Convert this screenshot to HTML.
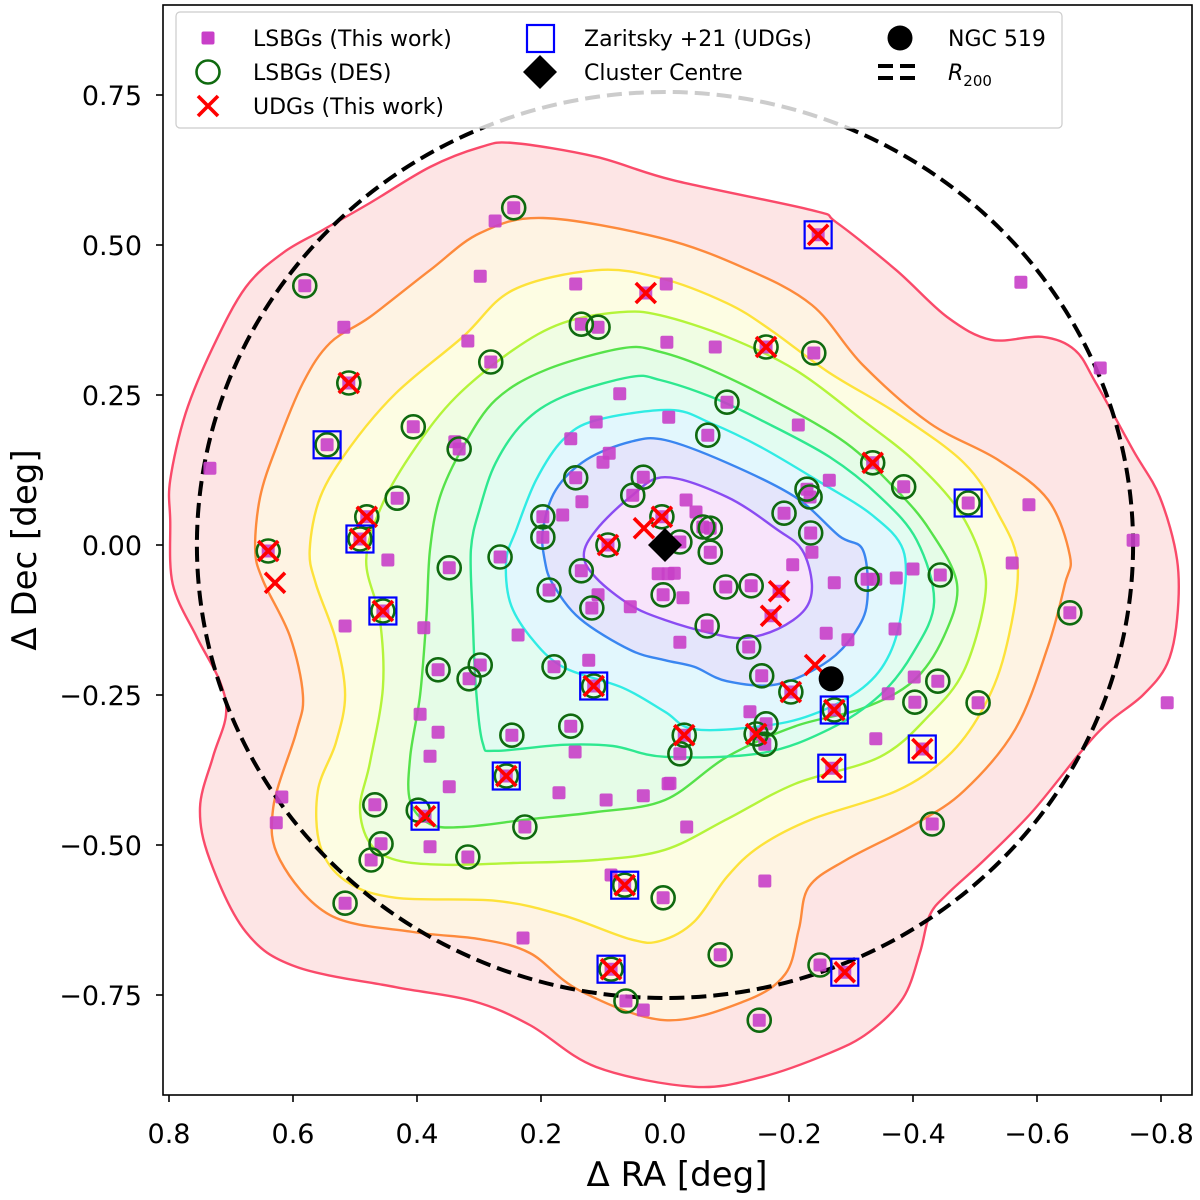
<!DOCTYPE html>
<html><head><meta charset="utf-8"><style>
html,body{margin:0;padding:0;background:#fff;}
svg{display:block;font-family:"DejaVu Sans","Liberation Sans",sans-serif;}
</style></head><body>
<svg id="chart" width="1200" height="1200" viewBox="0 0 1200 1200">
<defs><clipPath id="clip"><rect x="163" y="5" width="1029" height="1090"/></clipPath></defs>
<rect x="0" y="0" width="1200" height="1200" fill="#fff"/>
<g id="plot" clip-path="url(#clip)"></g>
<rect x="163" y="5" width="1029" height="1090" fill="none" stroke="#000" stroke-width="1.6"/>
<g id="axes"></g>
<g id="legend"></g>
</svg>
<script>
// ---- data (degrees) ----
const xTicks = [0.8,0.6,0.4,0.2,0,-0.2,-0.4,-0.6,-0.8];
const xTickLabels = ["0.8","0.6","0.4","0.2","0.0","\u22120.2","\u22120.4","\u22120.6","\u22120.8"];
const yTicks = [0.75,0.5,0.25,0,-0.25,-0.5,-0.75];
const yTickLabels = ["0.75","0.50","0.25","0.00","\u22120.25","\u22120.50","\u22120.75"];
const r200 = 0.755;
const clusterCentre = [0,0];
const ngc519 = [-0.268,-0.223];

const lsbg = [[0.244,0.562],[0.274,0.540],[0.581,0.432],[0.518,0.363],[0.298,0.448],[0.144,0.435],[0.031,0.420],[-0.002,0.435],[0.135,0.368],[0.108,0.363],[0.318,0.340],[0.281,0.305],[-0.003,0.338],[0.510,0.270],[0.073,0.252],[0.545,0.167],[0.406,0.197],[0.332,0.160],[0.339,0.172],[0.111,0.205],[0.152,0.177],[-0.006,0.213],[0.090,0.153],[0.100,0.138],[0.432,0.078],[0.481,0.047],[0.492,0.010],[0.640,-0.010],[0.134,0.072],[0.144,0.112],[0.165,0.050],[0.197,0.047],[0.197,0.013],[0.035,0.113],[0.052,0.083],[0.005,0.047],[0.092,0.000],[0.734,0.128],
[-0.247,0.517],[-0.574,0.438],[-0.702,0.295],[-0.081,0.330],[-0.163,0.330],[-0.240,0.320],[-0.100,0.238],[-0.069,0.183],[-0.215,0.200],[-0.335,0.137],[-0.385,0.097],[-0.489,0.070],[-0.587,0.067],[-0.755,0.008],[-0.265,0.108],[-0.229,0.093],[-0.234,0.080],[-0.192,0.053],[-0.235,0.020],[-0.237,-0.012],[-0.034,0.075],[-0.050,0.055],[-0.061,0.030],[-0.073,0.028],[-0.073,-0.012],[-0.024,0.005],
[0.455,-0.110],[0.516,-0.135],[0.447,-0.025],[0.389,-0.138],[0.348,-0.038],[0.266,-0.020],[0.135,-0.043],[0.187,-0.075],[0.118,-0.105],[0.056,-0.103],[0.108,-0.083],[0.011,-0.048],[-0.005,-0.048],[0.003,-0.083],[0.237,-0.150],[0.366,-0.208],[0.298,-0.200],[0.316,-0.223],[0.179,-0.203],[0.123,-0.192],[0.115,-0.235],[0.395,-0.282],[0.366,-0.312],[0.247,-0.317],[0.152,-0.302],[0.145,-0.345],[0.379,-0.352],[0.348,-0.403],[0.256,-0.385],[0.171,-0.413],[0.095,-0.425],[0.035,-0.418],[-0.005,-0.398],[0.618,-0.420],[0.627,-0.463],[0.468,-0.433],[0.387,-0.452],[0.458,-0.498],[0.474,-0.525],[0.379,-0.503],[0.318,-0.520],[0.226,-0.470],[0.087,-0.550],[0.065,-0.567],[0.003,-0.588],[0.516,-0.597],[0.229,-0.655],[0.087,-0.707],[0.063,-0.760],[0.035,-0.775],
[-0.560,-0.030],[-0.444,-0.050],[-0.653,-0.113],[-0.400,-0.040],[-0.373,-0.055],[-0.326,-0.057],[-0.340,-0.057],[-0.273,-0.063],[-0.206,-0.033],[-0.184,-0.077],[-0.171,-0.118],[-0.098,-0.070],[-0.139,-0.068],[-0.029,-0.088],[-0.015,-0.047],[-0.068,-0.135],[-0.024,-0.162],[-0.135,-0.170],[-0.260,-0.147],[-0.295,-0.158],[-0.371,-0.140],[-0.156,-0.218],[-0.203,-0.245],[-0.273,-0.275],[-0.402,-0.220],[-0.440,-0.227],[-0.360,-0.248],[-0.403,-0.262],[-0.505,-0.263],[-0.810,-0.263],[-0.137,-0.278],[-0.163,-0.298],[-0.147,-0.315],[-0.161,-0.332],[-0.031,-0.317],[-0.024,-0.348],[-0.340,-0.323],[-0.415,-0.340],[-0.269,-0.372],[-0.008,-0.397],[-0.035,-0.470],[-0.431,-0.465],[-0.161,-0.560],[-0.089,-0.683],[-0.250,-0.700],[-0.290,-0.712],[-0.152,-0.792]];

const des = [[0.244,0.562],[0.581,0.432],[0.135,0.368],[0.108,0.363],[0.281,0.305],[0.510,0.270],[0.545,0.167],[0.406,0.197],[0.332,0.160],[0.432,0.078],[0.481,0.047],[0.492,0.010],[0.640,-0.010],[0.144,0.112],[0.197,0.047],[0.197,0.013],[0.035,0.113],[0.052,0.083],[0.005,0.047],[0.092,0.000],
[-0.163,0.330],[-0.240,0.320],[-0.100,0.238],[-0.069,0.183],[-0.335,0.137],[-0.385,0.097],[-0.489,0.070],[-0.229,0.093],[-0.234,0.080],[-0.192,0.053],[-0.235,0.020],[-0.061,0.030],[-0.073,0.028],[-0.073,-0.012],[-0.024,0.005],
[0.455,-0.110],[0.348,-0.038],[0.266,-0.020],[0.135,-0.043],[0.187,-0.075],[0.118,-0.105],[0.003,-0.083],[0.366,-0.208],[0.298,-0.200],[0.316,-0.223],[0.179,-0.203],[0.115,-0.235],[0.247,-0.317],[0.152,-0.302],[0.256,-0.385],[0.468,-0.433],[0.398,-0.442],[0.458,-0.498],[0.474,-0.525],[0.318,-0.520],[0.226,-0.470],[0.065,-0.567],[0.003,-0.588],[0.516,-0.597],[0.087,-0.707],[0.063,-0.760],
[-0.444,-0.050],[-0.653,-0.113],[-0.326,-0.057],[-0.098,-0.070],[-0.139,-0.068],[-0.068,-0.135],[-0.135,-0.170],[-0.156,-0.218],[-0.203,-0.245],[-0.273,-0.275],[-0.440,-0.227],[-0.403,-0.262],[-0.505,-0.263],[-0.163,-0.298],[-0.147,-0.315],[-0.161,-0.332],[-0.031,-0.317],[-0.024,-0.348],[-0.431,-0.465],[-0.089,-0.683],[-0.250,-0.700],[-0.152,-0.792]];

const udg = [[0.031,0.420],[0.510,0.270],[0.481,0.047],[0.492,0.010],[0.640,-0.010],[0.629,-0.063],[0.034,0.028],[0.005,0.047],[0.092,0.000],[-0.247,0.517],[-0.163,0.330],[-0.335,0.137],[0.455,-0.110],[0.115,-0.235],[0.256,-0.385],[0.387,-0.452],[0.065,-0.567],[0.087,-0.707],[-0.184,-0.077],[-0.171,-0.118],[-0.242,-0.200],[-0.203,-0.245],[-0.273,-0.275],[-0.147,-0.315],[-0.031,-0.317],[-0.415,-0.340],[-0.269,-0.372],[-0.290,-0.712]];

const zaritsky = [[0.545,0.167],[0.492,0.010],[-0.247,0.517],[-0.489,0.070],[0.455,-0.110],[0.115,-0.235],[0.256,-0.385],[0.387,-0.452],[0.065,-0.567],[0.087,-0.707],[-0.273,-0.275],[-0.415,-0.340],[-0.269,-0.372],[-0.290,-0.712]];

// KDE contour levels (outer to inner), vertices in degrees
const contourRed = [[0.245,0.670],[0.111,0.647],[-0.013,0.608],[-0.237,0.558],[-0.276,0.538],[-0.373,0.458],[-0.455,0.380],[-0.526,0.342],[-0.608,0.347],[-0.661,0.325],[-0.695,0.270],[-0.755,0.158],[-0.798,0.080],[-0.826,-0.025],[-0.826,-0.123],[-0.810,-0.198],[-0.771,-0.250],[-0.716,-0.295],[-0.673,-0.342],[-0.592,-0.445],[-0.515,-0.525],[-0.455,-0.582],[-0.427,-0.617],[-0.411,-0.680],[-0.384,-0.755],[-0.329,-0.812],[-0.265,-0.847],[-0.155,-0.887],[-0.047,-0.903],[0.111,-0.870],[0.218,-0.800],[0.310,-0.760],[0.434,-0.737],[0.595,-0.703],[0.676,-0.645],[0.734,-0.525],[0.750,-0.438],[0.729,-0.353],[0.708,-0.283],[0.718,-0.227],[0.756,-0.152],[0.794,-0.065],[0.798,0.042],[0.798,0.108],[0.773,0.220],[0.729,0.330],[0.676,0.430],[0.616,0.487],[0.552,0.525],[0.476,0.570],[0.379,0.630],[0.298,0.663]];
const contourOrange = [[0.197,0.545],[0.008,0.512],[-0.127,0.462],[-0.237,0.400],[-0.319,0.300],[-0.427,0.203],[-0.537,0.142],[-0.618,0.075],[-0.653,-0.018],[-0.645,-0.065],[-0.618,-0.168],[-0.565,-0.307],[-0.482,-0.410],[-0.400,-0.467],[-0.292,-0.525],[-0.232,-0.570],[-0.216,-0.640],[-0.194,-0.715],[-0.129,-0.760],[0,-0.792],[0.137,-0.743],[0.218,-0.680],[0.298,-0.657],[0.406,-0.645],[0.540,-0.617],[0.621,-0.525],[0.632,-0.438],[0.595,-0.313],[0.584,-0.250],[0.605,-0.152],[0.648,-0.060],[0.661,-0.008],[0.653,0.080],[0.627,0.163],[0.584,0.270],[0.540,0.337],[0.476,0.380],[0.379,0.458],[0.298,0.520]];
const contourYellow = [[0.111,0.458],[0.008,0.445],[-0.100,0.403],[-0.171,0.358],[-0.265,0.287],[-0.373,0.220],[-0.482,0.137],[-0.537,0.053],[-0.569,-0.037],[-0.548,-0.180],[-0.510,-0.278],[-0.455,-0.353],[-0.373,-0.410],[-0.237,-0.457],[-0.153,-0.502],[-0.100,-0.553],[-0.047,-0.628],[0.008,-0.660],[0.056,-0.657],[0.165,-0.617],[0.273,-0.593],[0.434,-0.588],[0.515,-0.560],[0.556,-0.502],[0.560,-0.410],[0.531,-0.330],[0.516,-0.250],[0.531,-0.158],[0.563,-0.065],[0.573,-0.008],[0.556,0.080],[0.508,0.163],[0.434,0.253],[0.326,0.347],[0.245,0.425]];
const contourLime = [[0.073,0.388],[0.008,0.383],[-0.100,0.347],[-0.210,0.292],[-0.319,0.208],[-0.400,0.142],[-0.471,0.062],[-0.511,-0.025],[-0.515,-0.095],[-0.482,-0.210],[-0.427,-0.283],[-0.347,-0.353],[-0.210,-0.398],[-0.100,-0.457],[0,-0.508],[0.111,-0.525],[0.245,-0.530],[0.353,-0.533],[0.434,-0.525],[0.476,-0.497],[0.492,-0.438],[0.476,-0.363],[0.455,-0.238],[0.460,-0.123],[0.482,-0.025],[0.455,0.070],[0.402,0.163],[0.337,0.247],[0.245,0.325],[0.165,0.370]];
const contourGreen = [[0.068,0.328],[0.008,0.322],[-0.074,0.292],[-0.182,0.237],[-0.292,0.170],[-0.373,0.092],[-0.427,0.025],[-0.471,-0.065],[-0.450,-0.152],[-0.400,-0.227],[-0.319,-0.272],[-0.210,-0.302],[-0.100,-0.353],[0,-0.425],[0.111,-0.445],[0.218,-0.457],[0.326,-0.470],[0.379,-0.465],[0.411,-0.427],[0.411,-0.353],[0.395,-0.250],[0.385,-0.123],[0.379,-0.008],[0.363,0.080],[0.326,0.163],[0.273,0.242],[0.192,0.292]];
const contourSpring = [[0.056,0.280],[0.008,0.275],[-0.074,0.247],[-0.155,0.208],[-0.265,0.147],[-0.347,0.080],[-0.406,0.008],[-0.434,-0.095],[-0.400,-0.180],[-0.347,-0.250],[-0.265,-0.307],[-0.155,-0.347],[0,-0.353],[0.084,-0.335],[0.165,-0.333],[0.273,-0.343],[0.294,-0.330],[0.305,-0.238],[0.310,-0.123],[0.313,-0.008],[0.298,0.063],[0.273,0.137],[0.229,0.203],[0.165,0.247]];
const contourCyan = [[-0.008,0.225],[0.111,0.208],[0.165,0.175],[0.208,0.108],[0.240,0.025],[0.256,-0.025],[0.250,-0.095],[0.218,-0.152],[0.165,-0.203],[0.068,-0.238],[0,-0.278],[-0.047,-0.307],[-0.155,-0.302],[-0.237,-0.283],[-0.319,-0.238],[-0.363,-0.180],[-0.384,-0.095],[-0.384,-0.008],[-0.334,0.050],[-0.253,0.103],[-0.155,0.163],[-0.074,0.203]];
const contourBlue = [[0,0.175],[0.056,0.172],[0.127,0.142],[0.176,0.092],[0.197,0.025],[0.194,-0.025],[0.181,-0.065],[0.137,-0.123],[0.056,-0.175],[0,-0.192],[-0.047,-0.203],[-0.100,-0.227],[-0.182,-0.232],[-0.265,-0.192],[-0.313,-0.135],[-0.327,-0.083],[-0.319,-0.008],[-0.281,0.015],[-0.210,0.080],[-0.100,0.137]];
const contourPurple = [[0,0.113],[0.056,0.080],[0.111,0.025],[0.131,-0.017],[0.111,-0.055],[0.056,-0.100],[0,-0.125],[-0.074,-0.147],[-0.127,-0.155],[-0.182,-0.140],[-0.226,-0.107],[-0.237,-0.065],[-0.221,-0.008],[-0.182,0.025],[-0.100,0.080]];

const contours = [contourRed,contourOrange,contourYellow,contourLime,contourGreen,contourSpring,contourCyan,contourBlue,contourPurple];
const contourNames = ["red","orange","yellow","lime","green","spring","cyan","blue","purple"];
const lineColors = ["#fa4a6a","#fd8a3c","#fde23a","#b4f43a","#56e24a","#2ee890","#30ece4","#3a86f0","#8a4cf2"];
const fillColors = ["#fde5e5","#fef3e3","#fdfde3","#f0fde3","#e5fce7","#e2fcf1","#e2f7fd","#e4e5fb","#f8e4fb"];

// ---- axis functions ----
const X0=665, XS=620, Y0=545, YS=600;
function sx(ra){return X0 - ra*XS;}
function sy(dec){return Y0 - dec*YS;}

const NS="http://www.w3.org/2000/svg";
function mk(tag, attrs, parent){const e=document.createElementNS(NS,tag);for(const k in attrs)e.setAttribute(k,attrs[k]);parent.appendChild(e);return e;}
const plot=document.getElementById('plot'), axes=document.getElementById('axes'), legend=document.getElementById('legend');

function smoothClosed(pts){
  const p=pts.map(d=>[sx(d[0]),sy(d[1])]); const n=p.length;
  let s="M"+p[0][0].toFixed(1)+","+p[0][1].toFixed(1);
  for(let i=0;i<n;i++){
    const p0=p[(i-1+n)%n],p1=p[i],p2=p[(i+1)%n],p3=p[(i+2)%n];
    const c1=[p1[0]+(p2[0]-p0[0])/6,p1[1]+(p2[1]-p0[1])/6];
    const c2=[p2[0]-(p3[0]-p1[0])/6,p2[1]-(p3[1]-p1[1])/6];
    s+="C"+c1[0].toFixed(1)+","+c1[1].toFixed(1)+" "+c2[0].toFixed(1)+","+c2[1].toFixed(1)+" "+p2[0].toFixed(1)+","+p2[1].toFixed(1);
  }
  return s+"Z";
}

contours.forEach((c,i)=>{
  const e=mk('path',{d:smoothClosed(c),fill:fillColors[i],stroke:'none'},plot);
  
  
});
contours.forEach((c,i)=>{
  const e=mk('path',{d:smoothClosed(c),fill:'none',stroke:lineColors[i],'stroke-width':2.4},plot);
  
  
});

{
  const e=mk('ellipse',{cx:sx(0),cy:sy(0),rx:Math.abs(sx(r200)-sx(0)),ry:Math.abs(sy(r200)-sy(0)),fill:'none',stroke:'#000','stroke-width':4,'stroke-dasharray':'15,7'},plot);
  
  
}

lsbg.forEach(d=>{
  const e=mk('rect',{x:sx(d[0])-6.5,y:sy(d[1])-6.5,width:13,height:13,rx:2,fill:'#c83fc8','fill-opacity':0.9},plot);
  
  
});
des.forEach(d=>{
  const e=mk('circle',{cx:sx(d[0]),cy:sy(d[1]),r:11.5,fill:'none',stroke:'#0f6a0f','stroke-width':2.6},plot);
  
  
});
udg.forEach(d=>{
  const x=sx(d[0]),y=sy(d[1]),h=10;
  const e=mk('path',{d:`M${x-h},${y-h}L${x+h},${y+h}M${x-h},${y+h}L${x+h},${y-h}`,stroke:'#ff0000','stroke-width':3.6,fill:'none'},plot);
  
  
});
zaritsky.forEach(d=>{
  const e=mk('rect',{x:sx(d[0])-13.5,y:sy(d[1])-13.5,width:27,height:27,fill:'none',stroke:'#0000ff','stroke-width':2.2},plot);
  
  
});
{
  const e=mk('circle',{cx:sx(ngc519[0]),cy:sy(ngc519[1]),r:12.5,fill:'#000'},plot);
  
  
}
{
  const x=sx(clusterCentre[0]),y=sy(clusterCentre[1]),h=17;
  const e=mk('path',{d:`M${x},${y-h}L${x+h},${y}L${x},${y+h}L${x-h},${y}Z`,fill:'#000'},plot);
  
  
}

xTicks.forEach((t,i)=>{
  const x=sx(t);
  const l=mk('line',{x1:x,y1:1095,x2:x,y2:1102,stroke:'#000','stroke-width':1.6},axes);
  
  
  const tx=mk('text',{x:x,y:1143,'text-anchor':'middle','font-size':27,fill:'#000'},axes);
  tx.textContent=xTickLabels[i];
  
  
});
yTicks.forEach((t,i)=>{
  const y=sy(t);
  const l=mk('line',{x1:156,y1:y,x2:163,y2:y,stroke:'#000','stroke-width':1.6},axes);
  
  
  const tx=mk('text',{x:142,y:y+10,'text-anchor':'end','font-size':27,fill:'#000'},axes);
  tx.textContent=yTickLabels[i];
  
  
});
{
  const t=mk('text',{x:677,y:1186,'text-anchor':'middle','font-size':34,fill:'#000'},axes);
  t.textContent='\u0394 RA [deg]';
  
  
  const t2=mk('text',{x:0,y:0,'text-anchor':'middle','font-size':34,fill:'#000',transform:'translate(36,550) rotate(-90)'},axes);
  t2.textContent='\u0394 Dec [deg]';
  
  
}

{
  const b=mk('rect',{x:176,y:12,width:886,height:116,rx:4,fill:'#fff','fill-opacity':0.8,stroke:'#ccc','stroke-width':1.2},legend);
  
  
  function label(x,y,txt,name){
    const t=mk('text',{x:x,y:y+8,'font-size':22,fill:'#000'},legend);
    t.textContent=txt;
    
    
    return t;
  }
  let e;
  e=mk('rect',{x:201.5,y:31.5,width:13,height:13,rx:2,fill:'#c83fc8'},legend);
  
  
  label(253,38,'LSBGs (This work)','legend-label-lsbg');
  e=mk('circle',{cx:208,cy:72,r:11.5,fill:'none',stroke:'#0f6a0f','stroke-width':2.6},legend);
  
  
  label(253,72,'LSBGs (DES)','legend-label-des');
  e=mk('path',{d:'M198,96L218,116M198,116L218,96',stroke:'#f00','stroke-width':3.6},legend);
  
  
  label(253,106,'UDGs (This work)','legend-label-udg');
  e=mk('rect',{x:527,y:25,width:27,height:27,fill:'none',stroke:'#00f','stroke-width':2.2},legend);
  
  
  label(584,38,'Zaritsky +21 (UDGs)','legend-label-zaritsky');
  e=mk('path',{d:'M540,55L557,72L540,89L523,72Z',fill:'#000'},legend);
  
  
  label(584,72,'Cluster Centre','legend-label-cluster-centre');
  e=mk('circle',{cx:900,cy:38,r:12.5,fill:'#000'},legend);
  
  
  label(948,38,'NGC 519','legend-label-ngc519');
  e=mk('path',{d:'M878,66H922M878,78H922',stroke:'#000','stroke-width':4,'stroke-dasharray':'15,7'},legend);
  
  
  const t=label(948,72,'','legend-label-r200');
  t.setAttribute('font-style','italic');
  const a=mk('tspan',{},t); a.textContent='R';
  const s=mk('tspan',{'font-size':15,dy:6,'font-style':'normal'},t); s.textContent='200';
}
</script>
</body></html>
